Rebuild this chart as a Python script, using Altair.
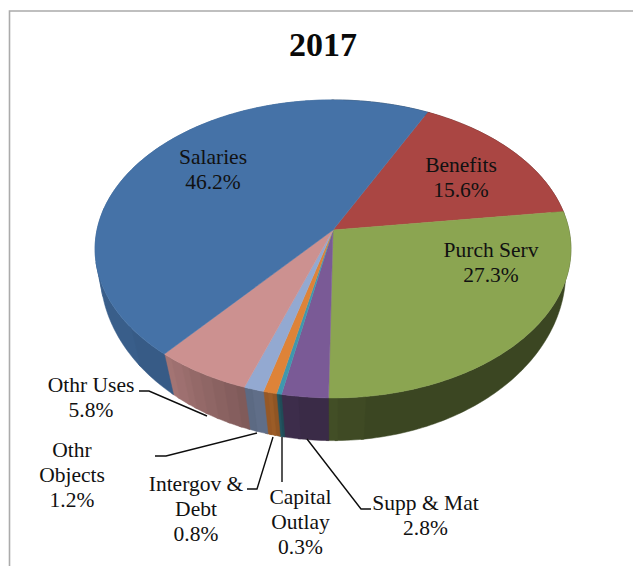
import numpy as np
import pandas as pd
import altair as alt

# Budget shares, listed clockwise from the boundary between Salaries and Benefits
categories = ["Benefits", "Purch Serv", "Supp & Mat", "Capital Outlay",
              "Intergov & Debt", "Othr Objects", "Othr Uses", "Salaries"]
shares = [15.6, 27.3, 2.8, 0.3, 0.8, 1.2, 5.8, 46.2]
face_colors = ["#AA4643", "#8BA551", "#7A5A96", "#3F98AE",
               "#DE8338", "#93A9D1", "#CC9190", "#4572A7"]

W, H = 633, 566

# Perspective model of the tilted disc: top rim and bottom rim
START_DEG = -63.5
CX = 333.0


def rim(t_deg, cy, a, b, k):
    t = np.radians(t_deg)
    d = 1 - k * np.sin(t)
    return CX + a * np.cos(t) / d, cy + b * np.sin(t) / d


def top_rim(t_deg):
    return rim(t_deg, 230.0, 236.0, 146.6, 0.127)


def bottom_rim(t_deg):
    return rim(t_deg, 258.0, 232.0, 168.0, 0.08)


def shade(hex_color, f):
    rgb = [int(hex_color[i:i + 2], 16) for i in (1, 3, 5)]
    return "#" + "".join(f"{int(round(c * f)):02x}" for c in rgb)


# Rim lighting across the visible wall, stepped into flat bands rather than a continuous ramp
LIGHT_T = [-10, 80, 91, 101.5, 103, 105, 109.3, 130, 180, 200]
LIGHT_F = [0.425, 0.425, 0.47, 0.50, 0.72, 0.66, 0.62, 0.80, 0.85, 0.88]
BAND_STEP = 0.025


def light(t_deg):
    tm = (t_deg + 360) % 360
    tm = tm - 360 if tm > 270 else tm
    return round(float(np.interp(tm, LIGHT_T, LIGHT_F)) / BAND_STEP) * BAND_STEP


edges = START_DEG + np.cumsum([0] + shares) * 3.6

face_rows, wall_rows = [], []
for i, (cat, col) in enumerate(zip(categories, face_colors)):
    t0, t1 = edges[i], edges[i + 1]
    ts = np.linspace(t0, t1, max(3, int((t1 - t0) / 1.0) + 2))
    pts = [(CX, 230.0)] + [top_rim(t) for t in ts] + [(CX, 230.0)]
    for j, (x, y) in enumerate(pts):
        face_rows.append(dict(piece=cat, seq=j, x=x, y=y, fill=col))

    # Group neighbouring steps of equal lighting into one wall band
    bands = []
    for a, b in zip(ts[:-1], ts[1:]):
        f = light((a + b) / 2)
        if bands and bands[-1][0] == f:
            bands[-1][1].append(b)
        else:
            bands.append((f, [a, b]))
    for n, (f, arc) in enumerate(bands):
        # Each band runs slightly under the next one so no seam shows
        arc = arc + [arc[-1] + 0.6]
        outline = [top_rim(t) for t in arc] + [bottom_rim(t) for t in reversed(arc)]
        outline.append(outline[0])
        for j, (x, y) in enumerate(outline):
            wall_rows.append(dict(piece=f"{i:02d}-{n:03d}", seq=j, x=x, y=y, fill=shade(col, f)))

faces = pd.DataFrame(face_rows)
walls = pd.DataFrame(wall_rows)

x_scale = alt.Scale(domain=[0, W], range=[0, W], nice=False, zero=False)
y_scale = alt.Scale(domain=[0, H], range=[0, H], nice=False, zero=False)
X = alt.X("x:Q", scale=x_scale, axis=None)
Y = alt.Y("y:Q", scale=y_scale, axis=None)


def filled_pieces(df):
    return alt.Chart(df).mark_line(
        filled=True, strokeWidth=0.5, interpolate="linear",
        opacity=1, fillOpacity=1, strokeOpacity=1,
    ).encode(
        x=X, y=Y,
        detail="piece:N",
        order="seq:Q",
        fill=alt.Fill("fill:N", scale=None),
        stroke=alt.Stroke("fill:N", scale=None),
    )


# Frame around the chart area (only its top and left edges fall inside the page)
frame = pd.DataFrame({"x": [9.5, 9.5, W], "y": [H, 11, 11], "seq": [0, 1, 2]})
frame_layer = alt.Chart(frame).mark_line(color="#ABABAB", strokeWidth=1.6).encode(x=X, y=Y, order="seq:Q")

# Leader lines from the outer labels to their slices
leaders = {
    "Othr Uses": [(139, 391), (149, 391), (207, 416)],
    "Othr Objects": [(155, 456), (166, 456), (257, 433)],
    "Intergov & Debt": [(247, 489), (257, 489), (273, 437)],
    "Capital Outlay": [(282, 437), (282, 482)],
    "Supp & Mat": [(307, 439), (361, 509), (371, 509)],
}
leader_df = pd.DataFrame([
    dict(piece=k, seq=j, x=p[0], y=p[1]) for k, v in leaders.items() for j, p in enumerate(v)
])
leader_layer = alt.Chart(leader_df).mark_line(color="#0D0D0D", strokeWidth=1.4).encode(
    x=X, y=Y, detail="piece:N", order="seq:Q"
)

# Label lines: wrapped name plus the share, with the centre of the first line
label_lines = {
    "Salaries": (["Salaries"], 213, 157.5),
    "Benefits": (["Benefits"], 461, 165.5),
    "Purch Serv": (["Purch Serv"], 491, 250.5),
    "Othr Uses": (["Othr Uses"], 91, 385.5),
    "Othr Objects": (["Othr", "Objects"], 72, 450.5),
    "Intergov & Debt": (["Intergov &", "Debt"], 196, 484.5),
    "Capital Outlay": (["Capital", "Outlay"], 300.5, 497.5),
    "Supp & Mat": (["Supp & Mat"], 425.5, 503.5),
}
LINE_GAP = 25
text_rows = []
for cat, share in zip(categories, shares):
    lines, lx, ly = label_lines[cat]
    for n, line in enumerate(lines + [f"{share:.1f}%"]):
        text_rows.append(dict(x=lx, y=ly + n * LINE_GAP, label=line))
text_layer = alt.Chart(pd.DataFrame(text_rows)).mark_text(
    font="Liberation Serif", fontSize=21.5, color="#111111", align="center", baseline="middle"
).encode(x=X, y=Y, text="label:N")

title_layer = alt.Chart(pd.DataFrame({"x": [323], "y": [46], "label": ["2017"]})).mark_text(
    font="Liberation Serif", fontSize=34, fontWeight="bold", color="#0A0A0A",
    align="center", baseline="middle"
).encode(x=X, y=Y, text="label:N")

chart = alt.layer(
    frame_layer, filled_pieces(walls), filled_pieces(faces), leader_layer, text_layer, title_layer
).properties(
    width=W, height=H, padding=0, autosize=alt.AutoSizeParams(type="none"),
    background="white",
).configure_view(stroke=None)

chart.save("out.html", embed_options={"renderer": "svg", "actions": False})
